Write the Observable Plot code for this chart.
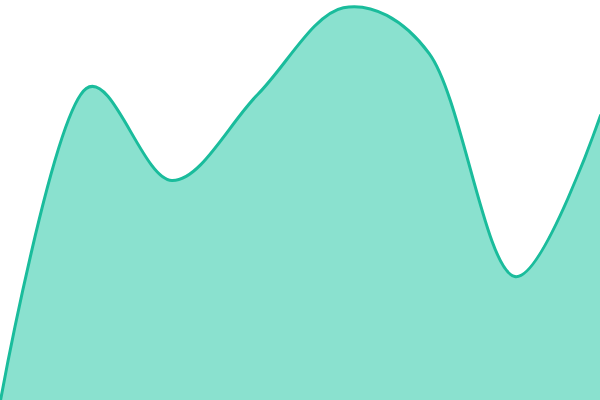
<!DOCTYPE html>
<html><head><meta charset="utf-8">
<script src="https://cdn.jsdelivr.net/npm/d3@7"></script>
<script src="https://cdn.jsdelivr.net/npm/@observablehq/plot@0.6"></script>
<style>html,body{margin:0;padding:0;background:#fff;}</style>
</head><body>
<div id="chart"></div>
<script>
const xs = [0, 1, 2, 3, 4, 5, 6, 7];
const values = [0, 78, 55, 76.5, 98.2, 86.8, 31, 71.25];
const data = xs.map((x, i) => ({x, y: values[i]}));
const curve = d3.curveCatmullRom.alpha(0.25);
const chart = Plot.plot({
  width: 600, height: 400,
  margin: 0,
  x: {domain: [0, 7], axis: null},
  y: {domain: [0, 100], axis: null},
  marks: [
    Plot.areaY(data, {x: "x", y: "y", curve, fill: "#16c4a0", fillOpacity: 0.5}),
    Plot.lineY(data, {x: "x", y: "y", curve, stroke: "#1abc9c", strokeWidth: 3})
  ]
});
document.getElementById("chart").appendChild(chart);
</script>
</body></html>
